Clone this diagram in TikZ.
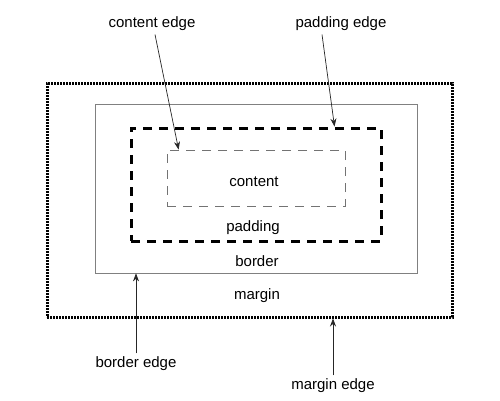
\documentclass[tikz,border=0pt]{standalone}
\usepackage{fontspec}
\setmainfont{Liberation Sans}
\usetikzlibrary{arrows.meta}

\begin{document}
\begin{tikzpicture}[x=1pt, y=-1pt, font=\fontsize{15}{18}\selectfont,
  box/.style={draw, rectangle, inner sep=0pt},
  pointer/.style={-{Stealth[length=8pt,width=6pt]}, line width=0.7pt, black!85}]

  \useasboundingbox (0,0) rectangle (500,400);

  % Nested boxes, outside in
  \node[box, minimum width=405pt, minimum height=234pt, line width=3pt, dash pattern=on 2pt off 1pt] (marginbox) at (249.5,200) {};
  \node[box, minimum width=322pt, minimum height=169pt, line width=0.8pt, draw=black!50] (borderbox) at (256,188.5) {};
  \node[box, minimum width=250pt, minimum height=113pt, line width=3pt, dash pattern=on 9pt off 7pt] (paddingbox) at (256,184.5) {};
  \node[box, minimum width=178pt, minimum height=56pt, line width=0.8pt, draw=black!55, dash pattern=on 9pt off 7pt] (contentbox) at (256,178) {};

  % Area labels
  \node (contentlbl) at (254,182) {content};
  \node (paddinglbl) at (253,228) {padding};
  \node (borderlbl) at (257,261) {border};
  \node (marginlbl) at (257,296) {margin};

  % Edge labels and arrows
  \node (contentedge) at (152,24) {content edge};
  \node (paddingedge) at (341,24) {padding edge};
  \node (borderedge) at (136,364) {border edge};
  \node (marginedge) at (333,386) {margin edge};

  \draw[pointer] ([xshift=3pt]contentedge.south) -- ([xshift=12pt]contentbox.north west);
  \draw[pointer] ([xshift=-19pt]paddingedge.south) -- ([xshift=-48pt]paddingbox.north east);
  \draw[pointer] (borderedge.north) -- (borderedge.north |- borderbox.south);
  \draw[pointer] (marginedge.north) -- (marginedge.north |- marginbox.south);

\end{tikzpicture}
\end{document}
